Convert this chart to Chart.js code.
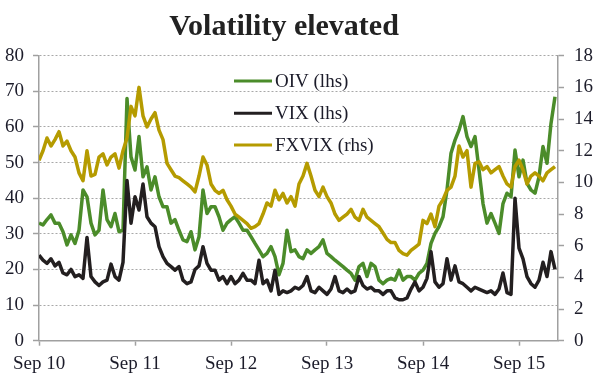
<!DOCTYPE html>
<html>
<head>
<meta charset="utf-8">
<script src="https://cdn.jsdelivr.net/npm/chart.js@4.4.0/dist/chart.umd.min.js"></script>
<style>
  body { margin: 0; background: #fff; }
  #wrap { width: 597px; height: 386px; }
</style>
</head>
<body>
<div id="wrap"><canvas id="myChart" width="597" height="386"></canvas></div>
<script>
// one reading every half month, starting Sep 2010
var xLabels = ['Sep 10', 'Sep 11', 'Sep 12', 'Sep 13', 'Sep 14', 'Sep 15'];
var seriesNames = ['OIV (lhs)', 'VIX (lhs)', 'FXVIX (rhs)'];

var oiv = [33, 32.5, 34, 35.3, 33, 33, 30.6, 26.9, 29.7, 27.3, 31, 42.3, 40.4, 33, 29.7, 31, 42.3, 34, 32, 35.7, 30.6, 31,
  68, 51.6, 47.9, 57.3, 46, 48.8, 42.3, 46, 40.4, 37.6, 37.6, 33, 34, 31, 28.3, 27.8, 30.6, 25.5, 29.2, 42.3, 35.7, 37.6,
  37.6, 34.8, 31, 33, 34, 34.8, 33, 31, 31, 29.2, 27.3, 25.5, 23.6, 24.5, 26.4, 23.6, 18.5, 21.7, 31, 25, 25.5, 23.6,
  23, 25.5, 24.5, 25.5, 26.4, 28.3, 24.5, 23.6, 22.6, 21.7, 20.8, 19.8, 18.9, 17, 20.8, 21.7, 18, 21.7, 20.8, 17, 16, 17,
  17.5, 17, 19.8, 17, 18, 18, 17, 18.9, 19.8, 21.7, 27.3, 30.1, 32, 34.8, 42.3, 52.6, 56.3, 59.1, 62.9, 57.3, 54.5, 57.3,
  48, 38.5, 33, 35.7, 33, 30.1, 38.5, 41.4, 40.4, 53.5, 46, 50.7, 44.2, 42.3, 41.4, 46, 54.5, 49.8, 61, 68.5];

var vix = [24, 22.6, 21.7, 23, 21, 22, 19, 18.5, 20, 18, 18.5, 17.5, 29, 18, 16.5, 15.5, 16.5, 17, 21.5, 18, 17, 22,
  45, 33, 40.4, 36.7, 44, 34.8, 33, 32, 26.4, 23.6, 21.7, 20.8, 19.8, 20.8, 17, 16, 16.5, 20, 21, 26.4, 21.7, 19.8,
  19.8, 17, 18, 16, 18, 16, 17, 18.9, 17, 17, 16, 22.6, 16, 17, 14, 19.8, 13, 14, 13.5, 14, 15, 14.5,
  15.5, 18, 14, 13.5, 15, 14, 13, 14.5, 18, 14, 13.5, 14.5, 13.5, 14, 18, 15.5, 14.5, 15, 14, 14, 13, 14,
  14, 12, 11.5, 11.5, 12, 14.5, 16.5, 14, 15, 17.5, 25, 16.5, 15, 16, 23, 17, 21, 16.5, 16, 15, 14, 15,
  14.5, 14, 13.5, 14, 13, 14.5, 19, 13.5, 13, 40, 26, 23, 18, 16, 15, 17, 22, 18, 25, 20];

var fxvix = [11.4, 12.0, 12.8, 12.3, 12.7, 13.2, 12.3, 12.6, 12.0, 11.6, 10.6, 10.1, 12.0, 10.4, 10.5, 11.6, 11.8, 11.1, 11.6, 11.8, 10.9, 12.0,
  12.8, 14.8, 14.2, 16.0, 14.2, 13.5, 14.0, 14.4, 13.3, 12.7, 11.2, 10.8, 10.4, 10.3, 10.1, 9.9, 9.7, 9.4, 10.4, 11.6, 11.1, 9.9,
  9.5, 9.3, 9.5, 8.9, 8.5, 8.0, 7.8, 7.6, 7.4, 7.1, 7.2, 7.4, 8.0, 8.7, 8.5, 9.5, 8.9, 9.3, 8.7, 9.1, 8.5, 9.9,
  10.4, 11.2, 10.4, 9.5, 9.1, 9.7, 9.1, 8.7, 8.0, 7.6, 7.8, 8.0, 8.3, 7.8, 7.6, 8.3, 7.8, 7.6, 7.4, 7.2, 6.8, 6.4,
  6.2, 6.2, 5.7, 5.5, 5.4, 5.7, 5.9, 6.1, 7.6, 7.4, 8.0, 7.2, 8.5, 8.9, 9.5, 9.7, 10.4, 12.3, 11.6, 12.0, 9.7, 11.2,
  11.3, 10.8, 11.0, 10.6, 10.8, 11.0, 10.4, 9.9, 9.7, 11.0, 11.4, 10.8, 9.9, 10.4, 10.6, 10.4, 10.1, 10.6, 10.8, 11.0];

var colors = ['#4b8c2a', '#231f20', '#b59b00'];
var textColor = '#1c1c2a';
var axisGrey = '#a0a0a0';

function pts(arr) {
  return arr.map(function (v, i) { return {x: i, y: v}; });
}

// title and the in-plot legend
var extras = {
  id: 'extras',
  afterDraw: function (chart) {
    var ctx = chart.ctx;
    ctx.save();
    ctx.fillStyle = '#222';
    ctx.font = 'bold 30px "Liberation Serif"';
    ctx.textAlign = 'center';
    ctx.textBaseline = 'alphabetic';
    ctx.fillText('Volatility elevated', 284, 35);

    ctx.font = '19px "Liberation Serif"';
    ctx.textAlign = 'left';
    ctx.textBaseline = 'middle';
    var rows = [81, 113.3, 145];
    for (var k = 0; k < 3; k++) {
      ctx.strokeStyle = colors[k];
      ctx.lineWidth = 3;
      ctx.beginPath();
      ctx.moveTo(234, rows[k]);
      ctx.lineTo(272, rows[k]);
      ctx.stroke();
      ctx.fillStyle = textColor;
      ctx.fillText(seriesNames[k], 275, rows[k] + 1);
    }
    ctx.restore();
  }
};

var tickFont = {family: 'Liberation Serif', size: 19};

new Chart(document.getElementById('myChart').getContext('2d'), {
  type: 'line',
  data: {
    datasets: [
      {label: seriesNames[0], data: pts(oiv), borderColor: colors[0], yAxisID: 'y', order: 3},
      {label: seriesNames[1], data: pts(vix), borderColor: colors[1], yAxisID: 'y', order: 2},
      {label: seriesNames[2], data: pts(fxvix), borderColor: colors[2], yAxisID: 'y2', order: 1}
    ]
  },
  options: {
    responsive: false,
    animation: false,
    events: [],
    layout: {padding: {top: 55.7, left: 0, right: 0, bottom: 0}},
    elements: {
      line: {borderWidth: 3.5, tension: 0, borderJoinStyle: 'round'},
      point: {radius: 0}
    },
    plugins: {legend: {display: false}, title: {display: false}, tooltip: {enabled: false}},
    scales: {
      x: {
        type: 'linear',
        min: 0,
        max: 129.75,
        afterFit: function (s) { s.height = 45.3; },
        afterBuildTicks: function (s) {
          s.ticks = xLabels.map(function (l, i) { return {value: i * 24}; });
        },
        ticks: {
          font: tickFont, color: textColor, padding: 7, maxRotation: 0, autoSkip: false,
          callback: function (v) { return xLabels[v / 24]; }
        },
        grid: {drawOnChartArea: false, tickLength: 5, tickColor: axisGrey, tickWidth: 1.5},
        border: {color: axisGrey, width: 1.5}
      },
      y: {
        position: 'left',
        min: 0,
        max: 80,
        afterFit: function (s) { s.width = 39; },
        ticks: {stepSize: 10, font: tickFont, color: textColor, padding: 9},
        grid: {color: '#a8a8a8', lineWidth: 1, tickLength: 6, tickColor: axisGrey, tickWidth: 1.5, tickBorderDash: []},
        border: {color: axisGrey, width: 1.5, dash: [2, 2]}
      },
      y2: {
        position: 'right',
        min: 0,
        max: 18,
        afterFit: function (s) { s.width = 39; },
        ticks: {stepSize: 2, font: tickFont, color: textColor, padding: 10},
        grid: {drawOnChartArea: false, tickLength: 6, tickColor: axisGrey, tickWidth: 1.5},
        border: {color: axisGrey, width: 1.5}
      }
    }
  },
  plugins: [extras]
});
</script>
</body>
</html>
